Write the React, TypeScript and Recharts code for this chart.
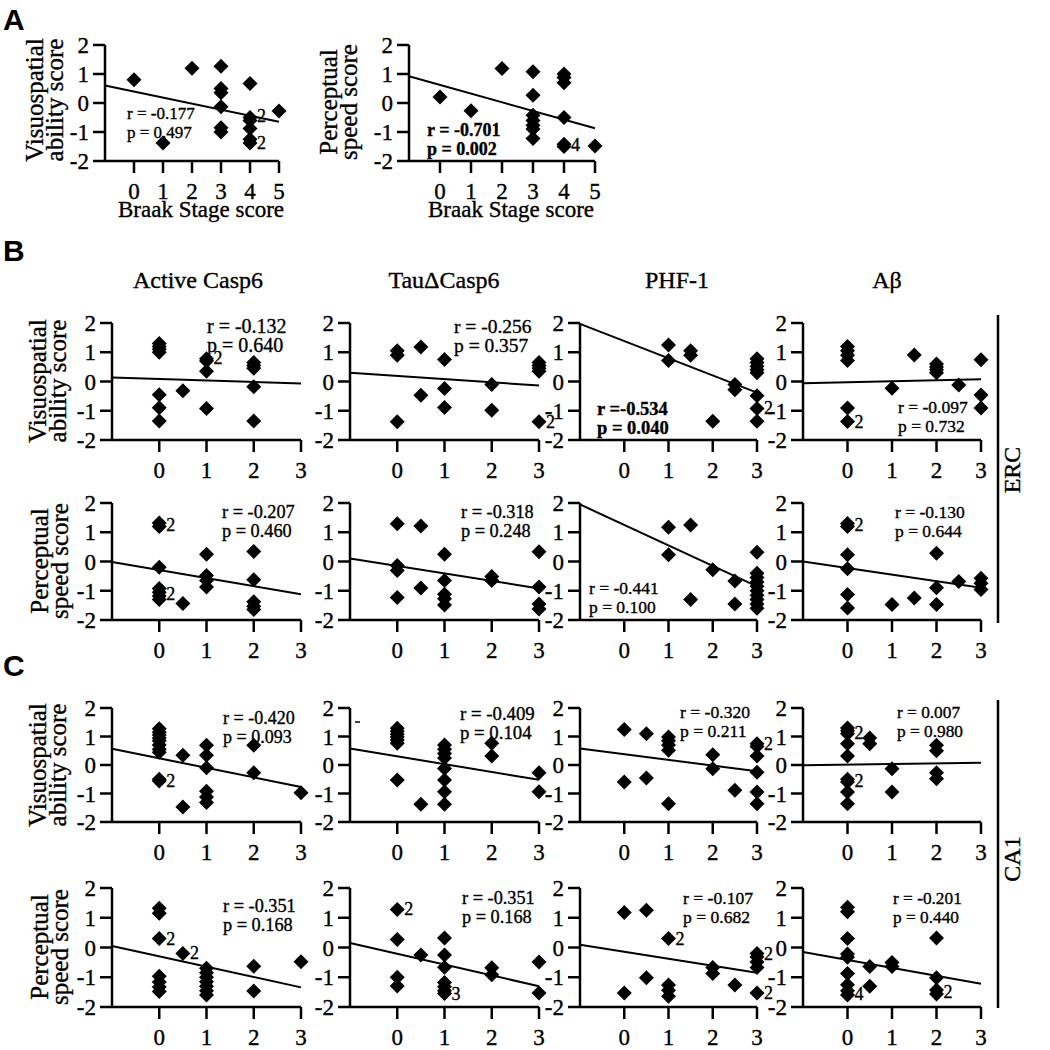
import React from "react";
import { ScatterChart, Scatter, XAxis, YAxis, ReferenceLine } from "recharts";

type Pt = [number, number];
type Count = [number, number, number];

const FONT = '"Liberation Serif", "Times New Roman", serif';
const SANS = '"Liberation Sans", Arial, sans-serif';

// ---- ticks
const scoreTicks = [-2, -1, 0, 1, 2];
const braakTicks = [0, 1, 2, 3, 4, 5];
const stageTicks = [0, 1, 2, 3];

// ---- A: Braak stage score
const aVisuo: Pt[] = [
  [0, 0.8], [1, -1.38], [2, 1.2],
  [3, 1.27], [3, 0.5], [3, 0.35], [3, -0.13], [3, -0.85], [3, -1.0],
  [4, 0.67], [4, -0.5], [4, -0.6], [4, -0.88], [4, -1.25], [4, -1.38],
  [5, -0.28],
];
const aVisuoFit: Pt[] = [[-1, 0.6], [5, -0.65]];
const aVisuoCounts: Count[] = [[4, -0.45, 2], [4, -1.38, 2]];
const aVisuoStats = ["r = -0.177", "p = 0.497"];

const aSpeed: Pt[] = [
  [0, 0.21], [1, -0.27], [2, 1.19],
  [3, 1.08], [3, 0.27], [3, -0.42], [3, -0.6], [3, -0.77], [3, -0.9], [3, -1.22],
  [4, 1.0], [4, 0.88], [4, 0.7], [4, -0.5], [4, -1.42], [4, -1.5],
  [5, -1.48],
];
const aSpeedFit: Pt[] = [[-1, 0.92], [5, -0.87]];
const aSpeedCounts: Count[] = [[4, -1.46, 4]];
const aSpeedStats = ["r = -0.701", "p = 0.002"];

// ---- B: ERC, visuospatial
const ercVisCasp6: Pt[] = [
  [0, 1.3], [0, 1.2], [0, 1.1], [0, 1.0], [0, -0.45], [0, -0.9], [0, -1.35],
  [0.5, -0.32],
  [1, 0.78], [1, 0.7], [1, 0.35], [1, -0.92],
  [2, 0.65], [2, 0.55], [2, 0.45], [2, -0.18], [2, -1.35],
];
const ercVisCasp6Fit: Pt[] = [[-1, 0.14], [3, -0.07]];
const ercVisCasp6Counts: Count[] = [[1, 0.8, 2]];
const ercVisCasp6Stats = ["r = -0.132", "p = 0.640"];

const ercVisTau: Pt[] = [
  [0, 1.05], [0, 0.9], [0, -1.38],
  [0.5, 1.18], [0.5, -0.47],
  [1, 0.75], [1, -0.24], [1, -0.89],
  [2, -0.1], [2, -0.98],
  [3, 0.65], [3, 0.55], [3, 0.45], [3, 0.35], [3, -1.38],
];
const ercVisTauFit: Pt[] = [[-1, 0.3], [3, -0.14]];
const ercVisTauCounts: Count[] = [[3, -1.38, 2]];
const ercVisTauStats = ["r = -0.256", "p = 0.357"];

const ercVisPhf: Pt[] = [
  [1, 1.25], [1, 0.72],
  [1.5, 1.05], [1.5, 0.9],
  [2, -1.36],
  [2.5, -0.1], [2.5, -0.28],
  [3, 0.78], [3, 0.65], [3, 0.52], [3, 0.4], [3, 0.3], [3, -0.49], [3, -0.92], [3, -1.36],
];
const ercVisPhfFit: Pt[] = [[-1, 1.97], [3, -0.38]];
const ercVisPhfCounts: Count[] = [[3, -0.9, 2]];
const ercVisPhfStats = ["r =-0.534", "p = 0.040"];

const ercVisAb: Pt[] = [
  [0, 1.2], [0, 1.05], [0, 0.9], [0, 0.72], [0, -0.91], [0, -1.37],
  [1, -0.23],
  [1.5, 0.91],
  [2, 0.6], [2, 0.5], [2, 0.4], [2, 0.3],
  [2.5, -0.12],
  [3, 0.74], [3, -0.46], [3, -0.91],
];
const ercVisAbFit: Pt[] = [[-1, -0.06], [3, 0.08]];
const ercVisAbCounts: Count[] = [[0, -1.37, 2]];
const ercVisAbStats = ["r = -0.097", "p = 0.732"];

// ---- B: ERC, perceptual speed
const ercSpdCasp6: Pt[] = [
  [0, 1.32], [0, 1.2], [0, -0.2], [0, -0.92], [0, -1.05], [0, -1.18], [0, -1.3],
  [0.5, -1.44],
  [1, 0.25], [1, -0.48], [1, -0.65], [1, -0.87],
  [2, 0.34], [2, -0.62], [2, -1.38], [2, -1.53], [2, -1.64],
];
const ercSpdCasp6Fit: Pt[] = [[-1, -0.02], [3, -1.12]];
const ercSpdCasp6Counts: Count[] = [[0, 1.26, 2], [0, -1.12, 2]];
const ercSpdCasp6Stats = ["r = -0.207", "p = 0.460"];

const ercSpdTau: Pt[] = [
  [0, 1.29], [0, -0.14], [0, -0.31], [0, -1.23],
  [0.5, 1.21], [0.5, -0.91],
  [1, 0.25], [1, -0.65], [1, -1.12], [1, -1.27], [1, -1.49],
  [2, -0.51], [2, -0.65],
  [3, 0.33], [3, -0.87], [3, -1.45], [3, -1.62],
];
const ercSpdTauFit: Pt[] = [[-1, 0.1], [3, -0.92]];
const ercSpdTauCounts: Count[] = [];
const ercSpdTauStats = ["r = -0.318", "p = 0.248"];

const ercSpdPhf: Pt[] = [
  [1, 1.17], [1, 0.23],
  [1.5, 1.25], [1.5, -1.3],
  [2, -0.28],
  [2.5, -0.67], [2.5, -1.45],
  [3, 0.32], [3, -0.4], [3, -0.55], [3, -0.7], [3, -0.85], [3, -1.0], [3, -1.15], [3, -1.3], [3, -1.45], [3, -1.6],
];
const ercSpdPhfFit: Pt[] = [[-1, 1.95], [3, -0.85]];
const ercSpdPhfCounts: Count[] = [];
const ercSpdPhfStats = ["r = -0.441", "p = 0.100"];

const ercSpdAb: Pt[] = [
  [0, 1.3], [0, 1.2], [0, 0.23], [0, -0.25], [0, -1.13], [0, -1.59],
  [1, -1.47],
  [1.5, -1.25],
  [2, 0.28], [2, -0.9], [2, -1.47],
  [2.5, -0.68],
  [3, -0.57], [3, -0.74], [3, -0.96],
];
const ercSpdAbFit: Pt[] = [[-1, 0.0], [3, -0.9]];
const ercSpdAbCounts: Count[] = [[0, 1.26, 2]];
const ercSpdAbStats = ["r = -0.130", "p = 0.644"];

// ---- C: CA1, visuospatial
const ca1VisCasp6: Pt[] = [
  [0, 1.27], [0, 1.15], [0, 1.05], [0, 0.95], [0, 0.85], [0, 0.7], [0, 0.55], [0, 0.45], [0, -0.5], [0, -0.56],
  [0.5, 0.34], [0.5, -1.47],
  [1, 0.69], [1, 0.34], [1, -0.1], [1, -0.92], [1, -1.12], [1, -1.32],
  [2, 0.69], [2, -0.27],
  [3, -0.97],
];
const ca1VisCasp6Fit: Pt[] = [[-1, 0.57], [3, -0.77]];
const ca1VisCasp6Counts: Count[] = [[0, -0.56, 2]];
const ca1VisCasp6Stats = ["r = -0.420", "p = 0.093"];

const ca1VisTau: Pt[] = [
  [0, 1.29], [0, 1.18], [0, 1.08], [0, 0.98], [0, 0.88], [0, 0.76], [0, -0.53],
  [0.5, -1.38],
  [1, 0.7], [1, 0.55], [1, 0.4], [1, 0.25], [1, -0.12], [1, -0.53], [1, -0.94], [1, -1.38],
  [2, 0.76], [2, 0.32],
  [3, -0.27], [3, -0.94],
];
const ca1VisTauFit: Pt[] = [[-1, 0.58], [3, -0.52]];
const ca1VisTauCounts: Count[] = [];
const ca1VisTauStats = ["r = -0.409", "p = 0.104"];

const ca1VisPhf: Pt[] = [
  [0, 1.25], [0, -0.6],
  [0.5, 1.1], [0.5, -0.46],
  [1, 0.98], [1, 0.85], [1, 0.7], [1, 0.52], [1, -1.36],
  [2, 0.36], [2, -0.13],
  [2.5, -0.89],
  [3, 0.75], [3, 0.65], [3, 0.32], [3, -0.25], [3, -0.95], [3, -1.36],
];
const ca1VisPhfFit: Pt[] = [[-1, 0.58], [3, -0.22]];
const ca1VisPhfCounts: Count[] = [[3, 0.75, 2]];
const ca1VisPhfStats = ["r = -0.320", "p = 0.211"];

const ca1VisAb: Pt[] = [
  [0, 1.3], [0, 1.2], [0, 1.1], [0, 0.75], [0, 0.32], [0, -0.5], [0, -0.6], [0, -0.95], [0, -1.36],
  [0.5, 0.95], [0.5, 0.75],
  [1, -0.13], [1, -0.95],
  [2, 0.69], [2, 0.5], [2, -0.27], [2, -0.48],
];
const ca1VisAbFit: Pt[] = [[-1, -0.01], [3, 0.08]];
const ca1VisAbCounts: Count[] = [[0, 1.12, 2], [0, -0.55, 2]];
const ca1VisAbStats = ["r = 0.007", "p = 0.980"];

// ---- C: CA1, perceptual speed
const ca1SpdCasp6: Pt[] = [
  [0, 1.32], [0, 1.15], [0, 0.3], [0, -0.97], [0, -1.16], [0, -1.33], [0, -1.48],
  [0.5, -0.2],
  [1, -0.7], [1, -0.85], [1, -1.0], [1, -1.15], [1, -1.3], [1, -1.45], [1, -1.6],
  [2, -0.63], [2, -1.46],
  [3, -0.48],
];
const ca1SpdCasp6Fit: Pt[] = [[-1, 0.05], [3, -1.34]];
const ca1SpdCasp6Counts: Count[] = [[0, 0.3, 2], [0.5, -0.2, 2]];
const ca1SpdCasp6Stats = ["r = -0.351", "p = 0.168"];

const ca1SpdTau: Pt[] = [
  [0, 1.28], [0, 0.27], [0, -1.0], [0, -1.29],
  [0.5, -0.25],
  [1, 0.32], [1, -0.25], [1, -0.66], [1, -1.18], [1, -1.32], [1, -1.45], [1, -1.55],
  [2, -0.68], [2, -0.92],
  [3, -0.49], [3, -1.53],
];
const ca1SpdTauFit: Pt[] = [[-1, 0.15], [3, -1.3]];
const ca1SpdTauCounts: Count[] = [[0, 1.28, 2], [1, -1.55, 3]];
const ca1SpdTauStats = ["r = -0.351", "p = 0.168"];

const ca1SpdPhf: Pt[] = [
  [0, 1.18], [0, -1.53],
  [0.5, 1.25], [0.5, -1.02],
  [1, 0.3], [1, -1.26], [1, -1.44], [1, -1.64],
  [2, -0.67], [2, -0.87],
  [2.5, -1.26],
  [3, -0.2], [3, -0.32], [3, -0.49], [3, -0.67], [3, -1.53],
];
const ca1SpdPhfFit: Pt[] = [[-1, 0.09], [3, -0.85]];
const ca1SpdPhfCounts: Count[] = [[1, 0.27, 2], [3, -0.23, 2], [3, -1.53, 2]];
const ca1SpdPhfStats = ["r = -0.107", "p = 0.682"];

const ca1SpdAb: Pt[] = [
  [0, 1.35], [0, 1.2], [0, 0.3], [0, -0.22], [0, -0.33], [0, -0.87], [0, -1.25], [0, -1.45], [0, -1.6],
  [0.5, -0.64], [0.5, -1.3],
  [1, -0.5], [1, -0.64],
  [2, 0.32], [2, -1.02], [2, -1.43], [2, -1.56],
];
const ca1SpdAbFit: Pt[] = [[-1, -0.15], [3, -1.22]];
const ca1SpdAbCounts: Count[] = [[0, -1.55, 4], [2, -1.5, 2]];
const ca1SpdAbStats = ["r = -0.201", "p = 0.440"];

const columnTitles = ["Active Casp6", "TauΔCasp6", "PHF-1", "Aβ"];

// ---- layout (page pixels)
const colX: [number, number][] = [[112, 301], [350, 539], [580, 757], [803, 981]];
const rowY = { b1: [323, 440], b2: [503, 620], c1: [708, 822], c2: [888, 1007] };

interface PanelDef {
  pts: Pt[];
  fit: Pt[];
  counts: Count[];
  stats: string[];
  plot: number[]; // left, top, right, bottom
  xMax: number;
  xTicks: number[];
  statsAt: number[]; // left, r-line centre, font size
  bold?: boolean;
}

const cell = (c: number, r: number[]) => [colX[c][0], r[0], colX[c][1], r[1]];

const panels: PanelDef[] = [
  { pts: aVisuo, fit: aVisuoFit, counts: aVisuoCounts, stats: aVisuoStats, plot: [105, 45, 279, 161], xMax: 5, xTicks: braakTicks, statsAt: [127, 113, 17] },
  { pts: aSpeed, fit: aSpeedFit, counts: aSpeedCounts, stats: aSpeedStats, plot: [409, 45, 595, 161], xMax: 5, xTicks: braakTicks, statsAt: [427, 130, 18], bold: true },

  { pts: ercVisCasp6, fit: ercVisCasp6Fit, counts: ercVisCasp6Counts, stats: ercVisCasp6Stats, plot: cell(0, rowY.b1), xMax: 3, xTicks: stageTicks, statsAt: [207, 327, 20] },
  { pts: ercVisTau, fit: ercVisTauFit, counts: ercVisTauCounts, stats: ercVisTauStats, plot: cell(1, rowY.b1), xMax: 3, xTicks: stageTicks, statsAt: [454, 327, 19.5] },
  { pts: ercVisPhf, fit: ercVisPhfFit, counts: ercVisPhfCounts, stats: ercVisPhfStats, plot: cell(2, rowY.b1), xMax: 3, xTicks: stageTicks, statsAt: [597, 409, 18.5], bold: true },
  { pts: ercVisAb, fit: ercVisAbFit, counts: ercVisAbCounts, stats: ercVisAbStats, plot: cell(3, rowY.b1), xMax: 3, xTicks: stageTicks, statsAt: [898, 407, 17.5] },

  { pts: ercSpdCasp6, fit: ercSpdCasp6Fit, counts: ercSpdCasp6Counts, stats: ercSpdCasp6Stats, plot: cell(0, rowY.b2), xMax: 3, xTicks: stageTicks, statsAt: [222, 512, 18.3] },
  { pts: ercSpdTau, fit: ercSpdTauFit, counts: ercSpdTauCounts, stats: ercSpdTauStats, plot: cell(1, rowY.b2), xMax: 3, xTicks: stageTicks, statsAt: [461, 512, 18.3] },
  { pts: ercSpdPhf, fit: ercSpdPhfFit, counts: ercSpdPhfCounts, stats: ercSpdPhfStats, plot: cell(2, rowY.b2), xMax: 3, xTicks: stageTicks, statsAt: [589, 588, 17.5] },
  { pts: ercSpdAb, fit: ercSpdAbFit, counts: ercSpdAbCounts, stats: ercSpdAbStats, plot: cell(3, rowY.b2), xMax: 3, xTicks: stageTicks, statsAt: [895, 512, 17.5] },

  { pts: ca1VisCasp6, fit: ca1VisCasp6Fit, counts: ca1VisCasp6Counts, stats: ca1VisCasp6Stats, plot: cell(0, rowY.c1), xMax: 3, xTicks: stageTicks, statsAt: [223, 718, 18] },
  { pts: ca1VisTau, fit: ca1VisTauFit, counts: ca1VisTauCounts, stats: ca1VisTauStats, plot: cell(1, rowY.c1), xMax: 3, xTicks: stageTicks, statsAt: [460, 714, 18.8] },
  { pts: ca1VisPhf, fit: ca1VisPhfFit, counts: ca1VisPhfCounts, stats: ca1VisPhfStats, plot: cell(2, rowY.c1), xMax: 3, xTicks: stageTicks, statsAt: [680, 712, 17.6] },
  { pts: ca1VisAb, fit: ca1VisAbFit, counts: ca1VisAbCounts, stats: ca1VisAbStats, plot: cell(3, rowY.c1), xMax: 3, xTicks: stageTicks, statsAt: [897, 712, 17.3] },

  { pts: ca1SpdCasp6, fit: ca1SpdCasp6Fit, counts: ca1SpdCasp6Counts, stats: ca1SpdCasp6Stats, plot: cell(0, rowY.c2), xMax: 3, xTicks: stageTicks, statsAt: [223, 906, 18.3] },
  { pts: ca1SpdTau, fit: ca1SpdTauFit, counts: ca1SpdTauCounts, stats: ca1SpdTauStats, plot: cell(1, rowY.c2), xMax: 3, xTicks: stageTicks, statsAt: [462, 898, 18.3] },
  { pts: ca1SpdPhf, fit: ca1SpdPhfFit, counts: ca1SpdPhfCounts, stats: ca1SpdPhfStats, plot: cell(2, rowY.c2), xMax: 3, xTicks: stageTicks, statsAt: [683, 898, 17.6] },
  { pts: ca1SpdAb, fit: ca1SpdAbFit, counts: ca1SpdAbCounts, stats: ca1SpdAbStats, plot: cell(3, rowY.c2), xMax: 3, xTicks: stageTicks, statsAt: [893, 898, 17.3] },
];

const Y_W = 50;
const X_H = 56;
const M_TOP = 14;
const M_RIGHT = 18;

const axisStroke = { stroke: "#000", strokeWidth: 2.5 };
const tickText = { fill: "#000", fontSize: 23, fontFamily: FONT };

const Diamond = (props: any) => {
  const { cx, cy } = props;
  if (cx == null || cy == null) return null;
  const s = 7.5;
  return <path d={`M${cx},${cy - s}L${cx + s},${cy}L${cx},${cy + s}L${cx - s},${cy}Z`} fill="#000" />;
};

const CountLabel = (props: any) => {
  const { cx, cy } = props;
  if (cx == null || cy == null) return null;
  const n = props.payload?.n ?? props.n;
  return (
    <text x={cx + 7} y={cy + 6} fontSize={18} fill="#000">
      {n}
    </text>
  );
};

function Plot({ p }: { p: PanelDef }) {
  const [l, t, r, b] = p.plot;
  const w = r - l + Y_W + M_RIGHT;
  const h = b - t + M_TOP + X_H;
  const data = p.pts.map(([x, y]) => ({ x, y }));
  const counts = p.counts.map(([x, y, n]) => ({ x, y, n }));
  return (
    <div style={{ position: "absolute", left: l - Y_W, top: t - M_TOP }}>
      <ScatterChart
        width={w}
        height={h}
        margin={{ top: M_TOP, right: M_RIGHT, bottom: 0, left: 0 }}
        style={{ overflow: "visible" }}
      >
        <XAxis
          type="number"
          dataKey="x"
          domain={[-1, p.xMax]}
          ticks={p.xTicks}
          interval={0}
          height={X_H}
          tickSize={12}
          tickMargin={10}
          axisLine={axisStroke}
          tickLine={axisStroke}
          tick={tickText}
        />
        <YAxis
          type="number"
          dataKey="y"
          domain={[-2, 2]}
          ticks={scoreTicks}
          interval={0}
          width={Y_W}
          tickSize={12}
          tickMargin={4}
          axisLine={axisStroke}
          tickLine={axisStroke}
          tick={tickText}
        />
        <ReferenceLine
          segment={[
            { x: p.fit[0][0], y: p.fit[0][1] },
            { x: p.fit[1][0], y: p.fit[1][1] },
          ]}
          stroke="#000"
          strokeWidth={2}
          ifOverflow="visible"
        />
        <Scatter data={data} shape={Diamond} isAnimationActive={false} />
        <Scatter data={counts} shape={CountLabel} isAnimationActive={false} />
      </ScatterChart>
    </div>
  );
}

function YTitle({ x, y, lines }: { x: number; y: number; lines: string[] }) {
  return (
    <g transform={`rotate(-90 ${x} ${y})`} fontSize={25}>
      <text x={x} y={y - 2.5} textAnchor="middle">
        {lines[0]}
      </text>
      <text x={x} y={y + 17.5} textAnchor="middle">
        {lines[1]}
      </text>
    </g>
  );
}

const visLines = ["Visuospatial", "ability score"];
const spdLines = ["Perceptual", "speed score"];

// slightly heavier glyphs, like the scanned figure
const css = `
.fig text { font-family: ${FONT}; stroke: #000; stroke-width: 0.35px; }
.fig text.sans { font-family: ${SANS}; font-weight: 700; stroke: none; }
`;

export default function App() {
  return (
    <div
      className="fig"
      style={{
        position: "absolute",
        left: 0,
        top: 0,
        width: 1050,
        height: 1050,
        background: "#fff",
        fontFamily: FONT,
        overflow: "hidden",
      }}
    >
      <style>{css}</style>
      {panels.map((p, i) => (
        <Plot key={i} p={p} />
      ))}
      <svg
        width={1050}
        height={1050}
        style={{ position: "absolute", left: 0, top: 0, pointerEvents: "none" }}
      >
        <g fontSize={30} fill="#000">
          <text className="sans" x={3} y={30}>A</text>
          <text className="sans" x={3} y={261}>B</text>
          <text className="sans" x={3} y={676}>C</text>
        </g>

        <YTitle x={45} y={100} lines={visLines} />
        <YTitle x={339} y={102} lines={spdLines} />
        <YTitle x={48} y={381} lines={visLines} />
        <YTitle x={50} y={561} lines={spdLines} />
        <YTitle x={48} y={765} lines={visLines} />
        <YTitle x={50} y={947} lines={spdLines} />

        <g fontSize={23} textAnchor="middle">
          <text x={201} y={217}>Braak Stage score</text>
          <text x={511} y={217}>Braak Stage score</text>
        </g>

        <g fontSize={24} textAnchor="middle">
          {columnTitles.map((t, i) => (
            <text key={t} x={[198, 444, 677, 887][i]} y={288}>
              {t}
            </text>
          ))}
        </g>

        {panels.map((p, i) => (
          <g key={i} fontSize={p.statsAt[2]} fontWeight={p.bold ? 700 : 400}>
            <text x={p.statsAt[0]} y={p.statsAt[1] + 6}>{p.stats[0]}</text>
            <text x={p.statsAt[0]} y={p.statsAt[1] + 25}>{p.stats[1]}</text>
          </g>
        ))}

        <line x1={355} x2={360} y1={722} y2={722} stroke="#000" strokeWidth={1.5} />

        <line x1={998} x2={998} y1={315} y2={623} stroke="#000" strokeWidth={2.5} />
        <line x1={998} x2={998} y1={700} y2={1008} stroke="#000" strokeWidth={2.5} />
        <g fontSize={24} textAnchor="middle">
          <text x={1020} y={470} transform="rotate(-90 1020 470)">ERC</text>
          <text x={1020} y={859} transform="rotate(-90 1020 859)">CA1</text>
        </g>
      </svg>
    </div>
  );
}
